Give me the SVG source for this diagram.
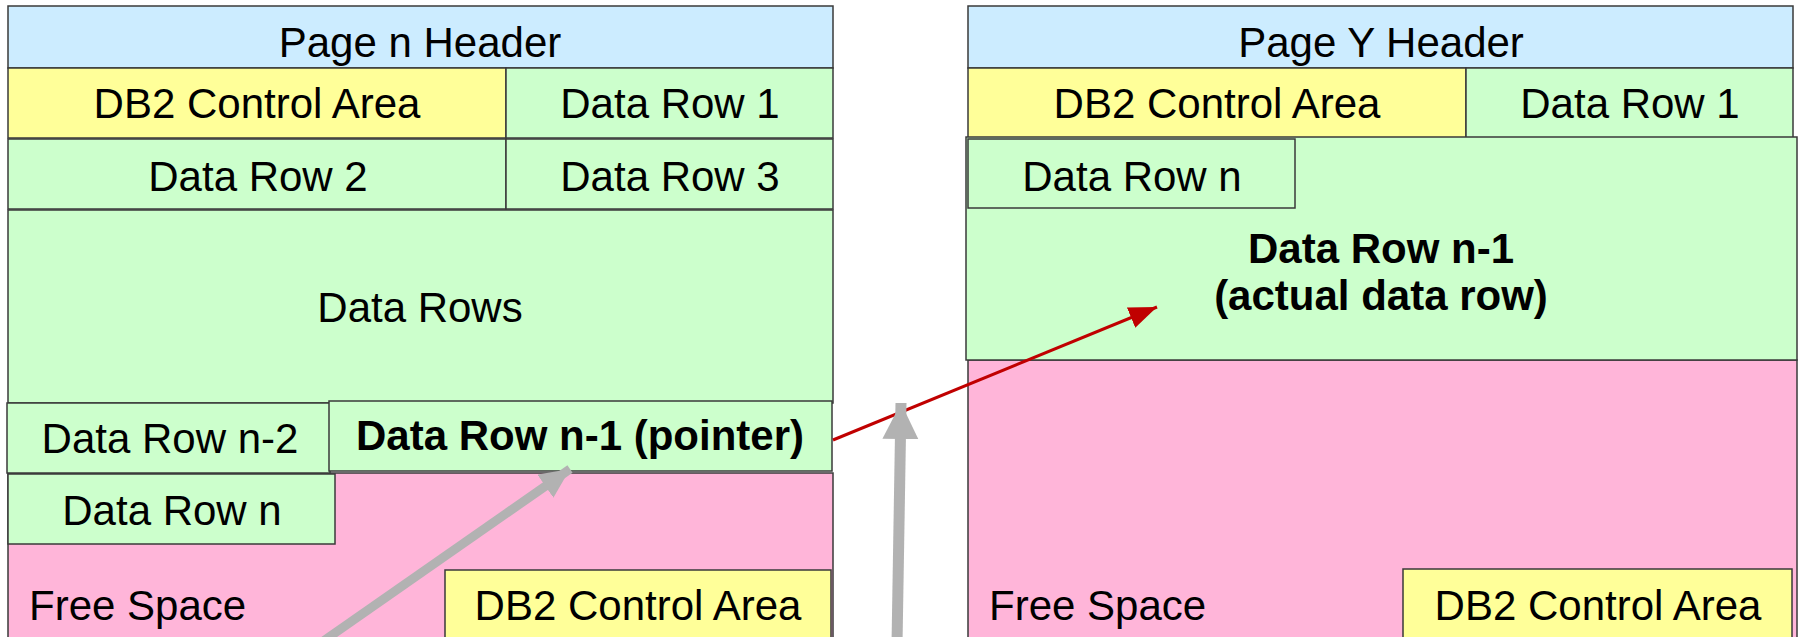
<svg xmlns="http://www.w3.org/2000/svg" width="1798" height="637" viewBox="0 0 1798 637">
<defs>
<style>
.b{stroke:#3a3a3a;stroke-width:1.5}
.hd{fill:#CCECFF}
.y{fill:#FFFF99}
.g{fill:#CCFFCC}
.p{fill:#FFB5D9}
text{font-family:"Liberation Sans",Arial,sans-serif;font-size:42px;fill:#000}
.c{text-anchor:middle}
.bd{font-weight:bold}
</style>
<marker id="redHead" markerUnits="userSpaceOnUse" markerWidth="30" markerHeight="24" refX="28" refY="11" orient="auto">
<path d="M0,0 L28,11 L0,22 Z" fill="#C00000"/>
</marker>
<marker id="grayHead" markerUnits="userSpaceOnUse" markerWidth="38" markerHeight="38" refX="36" refY="18" orient="auto">
<path d="M0,0 L36,18 L0,36 Z" fill="#B2B2B2"/>
</marker>
<marker id="grayHead2" markerUnits="userSpaceOnUse" markerWidth="32" markerHeight="30" refX="30" refY="14" orient="auto">
<path d="M0,0 L30,14 L0,28 Z" fill="#B2B2B2"/>
</marker>
</defs>

<g id="page-n">
<g id="n-free-space"><rect class="p b" x="8" y="473" width="825" height="170"/><text x="29" y="620">Free Space</text></g>
<g id="n-header"><rect class="hd b" x="8" y="6" width="825" height="62"/><text class="c" x="420" y="57">Page n Header</text></g>
<g id="n-control-top"><rect class="y b" x="8" y="68" width="498" height="70"/><text class="c" x="257" y="118">DB2 Control Area</text></g>
<g id="n-row1"><rect class="g b" x="506" y="68" width="327" height="70"/><text class="c" x="670" y="118">Data Row 1</text></g>
<g id="n-row2"><rect class="g b" x="8" y="139" width="498" height="70"/><text class="c" x="258" y="191">Data Row 2</text></g>
<g id="n-row3"><rect class="g b" x="506" y="139" width="327" height="70"/><text class="c" x="670" y="191">Data Row 3</text></g>
<g id="n-rows"><rect class="g b" x="8" y="210" width="825" height="193"/><text class="c" x="420" y="322">Data Rows</text></g>
<g id="n-row-n2"><rect class="g b" x="7" y="403" width="323" height="70"/><text class="c" x="170" y="453">Data Row n-2</text></g>
<g id="n-row-n1-pointer"><rect class="g b" x="329" y="401" width="503" height="70"/><text class="c bd" x="580" y="450">Data Row n-1 (pointer)</text></g>
<g id="n-row-n"><rect class="g b" x="8" y="474" width="327" height="70"/><text class="c" x="172" y="525">Data Row n</text></g>
<g id="n-control-bottom"><rect class="y b" x="445" y="570" width="386" height="80"/><text class="c" x="638" y="620">DB2 Control Area</text></g>
</g>

<g id="page-y">
<g id="y-free-space"><rect class="p b" x="968" y="360" width="829" height="290"/><text x="989" y="620">Free Space</text></g>
<g id="y-header"><rect class="hd b" x="968" y="6" width="825" height="62"/><text class="c" x="1381" y="57">Page Y Header</text></g>
<g id="y-control-top"><rect class="y b" x="968" y="68" width="498" height="70"/><text class="c" x="1217" y="118">DB2 Control Area</text></g>
<g id="y-row1"><rect class="g b" x="1466" y="68" width="327" height="70"/><text class="c" x="1630" y="118">Data Row 1</text></g>
<g id="y-row-n1-actual"><rect class="g b" x="966" y="137" width="831" height="223"/><text class="c bd" x="1381" y="263">Data Row n-1</text><text class="c bd" x="1381" y="310">(actual data row)</text></g>
<g id="y-row-n"><rect class="g b" x="968" y="139" width="327" height="69"/><text class="c" x="1132" y="191">Data Row n</text></g>
<g id="y-control-bottom"><rect class="y b" x="1403" y="569" width="389" height="80"/><text class="c" x="1598" y="620">DB2 Control Area</text></g>
</g>

<g id="connectors">
<line x1="833" y1="440" x2="1157" y2="307" stroke="#C00000" stroke-width="3" marker-end="url(#redHead)"/>
<line x1="897" y1="645" x2="901" y2="403" stroke="#B2B2B2" stroke-width="11" marker-end="url(#grayHead)"/>
<line x1="322" y1="642" x2="570" y2="469" stroke="#B2B2B2" stroke-width="9" marker-end="url(#grayHead2)"/>
</g>
</svg>
